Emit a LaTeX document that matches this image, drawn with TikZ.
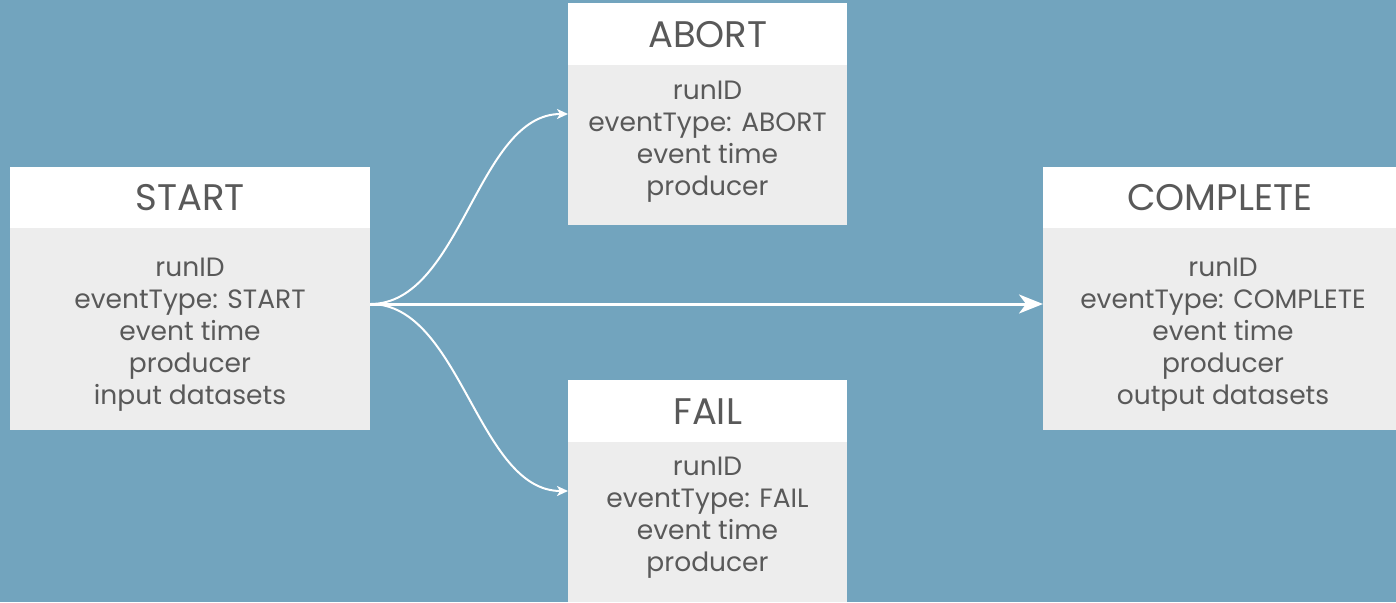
\documentclass[tikz,border=0pt]{standalone}
\usepackage{fontspec}
\setmainfont{Poppins}
\usetikzlibrary{arrows.meta}
\definecolor{bgblue}{HTML}{72A4BE}
\definecolor{bodygray}{HTML}{EDEDED}
\definecolor{txtgray}{HTML}{595959}
\tikzset{
  hdr/.style={draw=none, fill=white, anchor=north west, inner sep=0pt,
    text=txtgray, font=\fontsize{37}{40}\selectfont},
  bodybox/.style={draw=none, fill=bodygray, anchor=north west, inner sep=0pt},
  fields/.style={align=center, text=txtgray, inner sep=0pt,
    font=\fontsize{26.5}{32}\selectfont},
  flow/.style={draw=white, line width=2pt, -{Stealth[length=11pt,width=10pt,inset=3pt]}},
  mainflow/.style={draw=white, line width=3pt, -{Stealth[length=24pt,width=19pt,inset=7pt]}}
}
\begin{document}
\begin{tikzpicture}[x=1pt,y=-1pt]
  \fill[bgblue] (0,0) rectangle (1396,602);
  \useasboundingbox (0,0) rectangle (1396,602);

  % START
  \node[hdr, minimum width=360pt, minimum height=61pt] (startH) at (10,167) {START};
  \node[bodybox, minimum width=360pt, minimum height=202pt] (startB) at (10,228) {};
  \node[fields] (startT) at (190,335) {runID\\eventType: START\\event time\\producer\\input datasets};

  % ABORT
  \node[hdr, minimum width=279pt, minimum height=62pt] (abortH) at (568,3) {ABORT};
  \node[bodybox, minimum width=279pt, minimum height=160pt] (abortB) at (568,65) {};
  \node[fields] (abortT) at (707.5,142) {runID\\eventType: ABORT\\event time\\producer};

  % FAIL
  \node[hdr, minimum width=279pt, minimum height=62pt] (failH) at (568,380) {FAIL};
  \node[bodybox, minimum width=279pt, minimum height=160pt] (failB) at (568,442) {};
  \node[fields] (failT) at (707.5,518) {runID\\eventType: FAIL\\event time\\producer};

  % COMPLETE
  \node[hdr, minimum width=353pt, minimum height=61pt] (compH) at (1043,167) {COMPLETE};
  \node[bodybox, minimum width=353pt, minimum height=202pt] (compB) at (1043,228) {};
  \node[fields] (compT) at (1223,335) {runID\\eventType: COMPLETE\\event time\\producer\\output datasets};

  % connector ends on the box edges
  \coordinate (startOut) at (startB.north east |- 0,304);
  \coordinate (abortIn) at (abortB.north west |- 0,114);
  \coordinate (failIn) at (failB.north west |- 0,491);
  \coordinate (compIn) at (compB.north west |- 0,304);

  \draw[mainflow] (startOut) -- (compIn);
  \draw[flow] (startOut) to[out=0,in=180,looseness=0.85] (abortIn);
  \draw[flow] (startOut) to[out=0,in=180,looseness=0.85] (failIn);
\end{tikzpicture}
\end{document}
